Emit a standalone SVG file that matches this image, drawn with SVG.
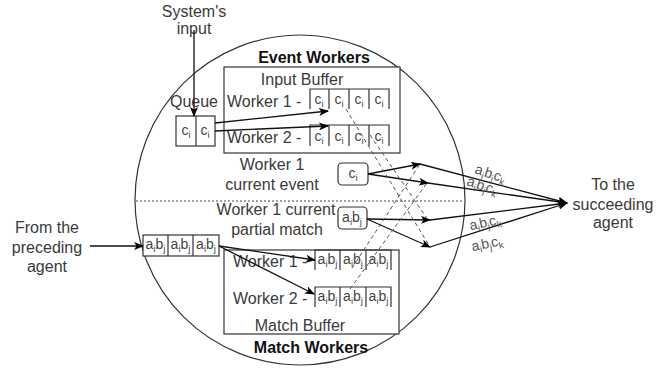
<svg xmlns="http://www.w3.org/2000/svg" width="668" height="368" viewBox="0 0 668 368">
<defs>
<marker id="arr" markerUnits="userSpaceOnUse" markerWidth="10" markerHeight="8" refX="9" refY="4" orient="auto">
<path d="M0,0 L10,4 L0,8 L2.5,4 z" fill="#000"/>
</marker>
<style>
text{font-family:"Liberation Sans",Arial,sans-serif;font-size:16px;fill:#3a3a3a}
.b{font-weight:bold;fill:#111}
.c{font-size:14px;fill:#444}
.s{font-size:9.5px}
.l{font-size:14px;fill:#555}
.box{fill:#fff;stroke:#333;stroke-width:1.2}
.ln{fill:none;stroke:#333;stroke-width:1.2}
.ar{fill:none;stroke:#111;stroke-width:1.3;marker-end:url(#arr)}
.ds{fill:none;stroke:#555;stroke-width:1;stroke-dasharray:4 3}
</style>
</defs>
<rect width="668" height="368" fill="#fff"/>

<g id="agent-circle">
<circle cx="300" cy="200" r="165" fill="none" stroke="#333" stroke-width="1.2"/>
<line x1="136" y1="201" x2="464" y2="201" stroke="#444" stroke-width="1" stroke-dasharray="2 2"/>
</g>

<g id="system-input">
<text x="194" y="17" text-anchor="middle">System's</text>
<text x="194" y="34" text-anchor="middle">input</text>
</g>

<g id="event-workers">
<text class="b" x="314" y="63" text-anchor="middle">Event Workers</text>
<rect class="box" x="224" y="67" width="176" height="86"/>
<text x="302" y="85" text-anchor="middle">Input Buffer</text>
<text x="227" y="107">Worker 1 -</text>
<text x="227" y="143">Worker 2 -</text>
<path class="ln" d="M310,109 V89 H389 V109 M329,89 V109 M349,89 V109 M369,89 V109"/>
<path class="ln" d="M310,146 V125 H389 V146 M329,125 V146 M349,125 V146 M369,125 V146"/>
<g class="cells">
<text class="c" x="319" y="104" text-anchor="middle">c<tspan class="s" dy="3">i</tspan></text>
<text class="c" x="339" y="104" text-anchor="middle">c<tspan class="s" dy="3">i</tspan></text>
<text class="c" x="359" y="104" text-anchor="middle">c<tspan class="s" dy="3">i</tspan></text>
<text class="c" x="379" y="104" text-anchor="middle">c<tspan class="s" dy="3">i</tspan></text>
<text class="c" x="319" y="141" text-anchor="middle">c<tspan class="s" dy="3">i</tspan></text>
<text class="c" x="339" y="141" text-anchor="middle">c<tspan class="s" dy="3">i</tspan></text>
<text class="c" x="359" y="141" text-anchor="middle">c<tspan class="s" dy="3">i</tspan></text>
<text class="c" x="379" y="141" text-anchor="middle">c<tspan class="s" dy="3">i</tspan></text>
</g>
</g>

<g id="queue">
<text x="194" y="107" text-anchor="middle">Queue</text>
<rect class="box" x="176" y="116" width="39" height="30"/>
<line class="ln" x1="196" y1="116" x2="196" y2="146"/>
<text class="c" x="186" y="135" text-anchor="middle">c<tspan class="s" dy="3">i</tspan></text>
<text class="c" x="205" y="135" text-anchor="middle">c<tspan class="s" dy="3">i</tspan></text>
</g>

<g id="current-event">
<text x="272" y="170" text-anchor="middle">Worker 1</text>
<text x="272" y="190" text-anchor="middle">current event</text>
<rect class="box" x="338" y="163" width="30" height="22" rx="4"/>
<text class="c" x="353" y="178" text-anchor="middle">c<tspan class="s" dy="3">i</tspan></text>
</g>

<g id="current-match">
<text x="276" y="215" text-anchor="middle">Worker 1 current</text>
<text x="277" y="235" text-anchor="middle">partial match</text>
<rect class="box" x="338" y="207" width="29" height="22" rx="4"/>
<text class="c" x="352" y="222" text-anchor="middle">a<tspan class="s" dy="3">i</tspan><tspan dy="-3">b</tspan><tspan class="s" dy="3">j</tspan></text>
</g>

<g id="match-workers">
<rect class="box" x="224" y="250" width="175" height="84"/>
<text x="233" y="267">Worker 1 -</text>
<text x="233" y="304">Worker 2 -</text>
<text x="300" y="331" text-anchor="middle">Match Buffer</text>
<text class="b" x="311" y="353" text-anchor="middle">Match Workers</text>
<path class="ln" d="M315,270 V250 H391 V270 M340,250 V270 M366,250 V270"/>
<path class="ln" d="M315,307 V287 H391 V307 M340,287 V307 M366,287 V307"/>
<text class="c" x="327.5" y="264" text-anchor="middle">a<tspan class="s" dy="3">i</tspan><tspan dy="-3">b</tspan><tspan class="s" dy="3">j</tspan></text>
<text class="c" x="353" y="264" text-anchor="middle">a<tspan class="s" dy="3">i</tspan><tspan dy="-3">b</tspan><tspan class="s" dy="3">j</tspan></text>
<text class="c" x="378.5" y="264" text-anchor="middle">a<tspan class="s" dy="3">i</tspan><tspan dy="-3">b</tspan><tspan class="s" dy="3">j</tspan></text>
<text class="c" x="327.5" y="301" text-anchor="middle">a<tspan class="s" dy="3">i</tspan><tspan dy="-3">b</tspan><tspan class="s" dy="3">j</tspan></text>
<text class="c" x="353" y="301" text-anchor="middle">a<tspan class="s" dy="3">i</tspan><tspan dy="-3">b</tspan><tspan class="s" dy="3">j</tspan></text>
<text class="c" x="378.5" y="301" text-anchor="middle">a<tspan class="s" dy="3">i</tspan><tspan dy="-3">b</tspan><tspan class="s" dy="3">j</tspan></text>
</g>

<g id="incoming-buffer">
<rect class="box" x="143" y="235" width="76" height="21"/>
<line class="ln" x1="168" y1="235" x2="168" y2="256"/>
<line class="ln" x1="193" y1="235" x2="193" y2="256"/>
<text class="c" x="155.5" y="249" text-anchor="middle">a<tspan class="s" dy="3">i</tspan><tspan dy="-3">b</tspan><tspan class="s" dy="3">j</tspan></text>
<text class="c" x="180.5" y="249" text-anchor="middle">a<tspan class="s" dy="3">i</tspan><tspan dy="-3">b</tspan><tspan class="s" dy="3">j</tspan></text>
<text class="c" x="206" y="249" text-anchor="middle">a<tspan class="s" dy="3">i</tspan><tspan dy="-3">b</tspan><tspan class="s" dy="3">j</tspan></text>
</g>

<g id="preceding-agent">
<text x="47" y="233" text-anchor="middle">From the</text>
<text x="47" y="253" text-anchor="middle">preceding</text>
<text x="47" y="272" text-anchor="middle">agent</text>
</g>

<g id="succeeding-agent">
<text x="613" y="190" text-anchor="middle">To the</text>
<text x="613" y="210" text-anchor="middle">succeeding</text>
<text x="613" y="228" text-anchor="middle">agent</text>
</g>

<g id="connectors">
<line class="ar" x1="194" y1="30" x2="194" y2="116"/>
<line class="ar" x1="215" y1="123" x2="328" y2="111"/>
<line class="ar" x1="215" y1="131" x2="328" y2="126"/>
<line class="ar" x1="90" y1="246" x2="143" y2="246"/>
<line class="ar" x1="219" y1="246" x2="315" y2="260"/>
<line class="ar" x1="219" y1="246" x2="314" y2="294"/>
<line class="ar" x1="368" y1="174" x2="420" y2="164"/>
<line class="ar" x1="368" y1="174" x2="428" y2="183"/>
<line class="ar" x1="367" y1="219" x2="430" y2="220"/>
<line class="ar" x1="367" y1="219" x2="430" y2="247"/>
<line class="ds" x1="346" y1="109" x2="430" y2="247"/>
<line class="ds" x1="370" y1="135" x2="428" y2="220"/>
<line class="ds" x1="352" y1="268" x2="420" y2="164"/>
<line class="ds" x1="350" y1="289" x2="427" y2="183"/>
<line class="ar" x1="420" y1="164" x2="567" y2="203"/>
<line class="ar" x1="428" y1="183" x2="567" y2="203"/>
<line class="ar" x1="430" y1="220" x2="567" y2="203"/>
<line class="ar" x1="430" y1="247" x2="567" y2="203"/>
<text class="l" transform="translate(489,178) rotate(18)" text-anchor="middle">a<tspan class="s" dy="3">i</tspan><tspan dy="-3">b</tspan><tspan class="s" dy="3">j</tspan><tspan dy="-3">c</tspan><tspan class="s" dy="3">k</tspan></text>
<text class="l" transform="translate(481,190) rotate(18)" text-anchor="middle">a<tspan class="s" dy="3">i</tspan><tspan dy="-3">b</tspan><tspan class="s" dy="3">j</tspan><tspan dy="-3">c</tspan><tspan class="s" dy="3">k</tspan></text>
<text class="l" transform="translate(486,227) rotate(-12)" text-anchor="middle">a<tspan class="s" dy="3">i</tspan><tspan dy="-3">b</tspan><tspan class="s" dy="3">j</tspan><tspan dy="-3">c</tspan><tspan class="s" dy="3">k</tspan></text>
<text class="l" transform="translate(488,248) rotate(-12)" text-anchor="middle">a<tspan class="s" dy="3">i</tspan><tspan dy="-3">b</tspan><tspan class="s" dy="3">j</tspan><tspan dy="-3">c</tspan><tspan class="s" dy="3">k</tspan></text>
</g>
</svg>
